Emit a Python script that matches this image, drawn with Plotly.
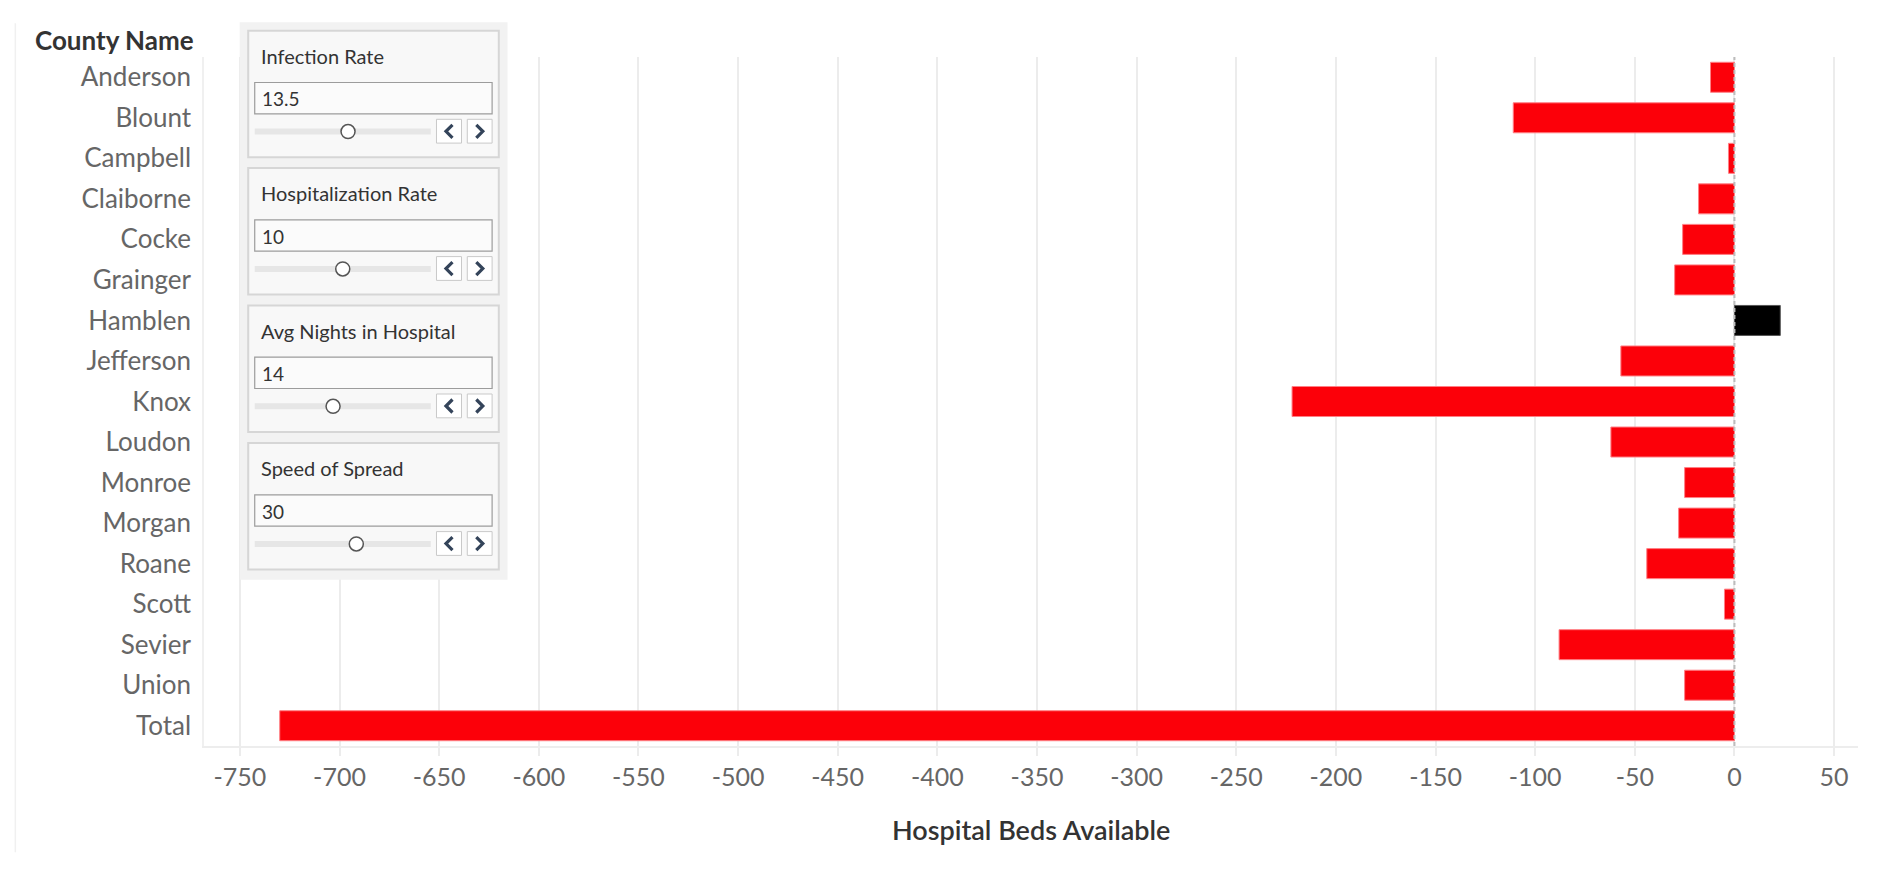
import plotly.graph_objects as go

# ---------------- data ----------------
counties = ["Anderson", "Blount", "Campbell", "Claiborne", "Cocke", "Grainger", "Hamblen",
            "Jefferson", "Knox", "Loudon", "Monroe", "Morgan", "Roane", "Scott", "Sevier",
            "Union", "Total"]
beds = [-12, -111, -3, -18, -26, -30, 23, -57, -222, -62, -25, -28, -44, -5, -88, -25, -730]
tick_vals = [-750, -700, -650, -600, -550, -500, -450, -400, -350, -300, -250, -200, -150,
             -100, -50, 0, 50]
tick_text = ["-750", "-700", "-650", "-600", "-550", "-500", "-450", "-400", "-350", "-300",
             "-250", "-200", "-150", "-100", "-50", "0", "50"]
# \u200c (zero-width non-joiner) keeps the font from drawing a "ti" ligature
param_names = ["Infection Rate", "Hospitaliza\u200ction Rate", "Avg Nights in Hospital", "Speed of Spread"]
param_values = ["13.5", "10", "14", "30"]
slider_fraction = [0.53, 0.50, 0.445, 0.577]

# ---------------- geometry helpers ----------------
# the page body has an 8px default margin, so the figure is drawn at (8, 8)
OFF = 8
W_FIG, H_FIG = 1894 - OFF, 874 - OFF
PLOT_X0, PLOT_X1 = 204.3, 1857.7      # page coordinates of plot area
PLOT_Y0, PLOT_Y1 = 56.7, 745.7
L = PLOT_X0 - OFF
R = W_FIG - (PLOT_X1 - OFF)
T = PLOT_Y0 - OFF
B = H_FIG - (PLOT_Y1 - OFF)
PW = W_FIG - L - R
PH = H_FIG - T - B


def px(x):
    return (x - OFF - L) / PW


def py(y):
    return 1 - (y - OFF - T) / PH


FONT = "Lato, 'Open Sans', sans-serif"
RED = "#fc0009"
colors = ["#000000" if v > 0 else RED for v in beds]
edges = ["#555555" if v > 0 else "#ff7f85" for v in beds]

fig = go.Figure(
    go.Bar(
        x=beds, y=counties, orientation="h",
        marker=dict(color=colors, line=dict(color=edges, width=1)),
        hoverinfo="x+y",
    )
)

shapes = []
annotations = []

# zero reference line (dashed)
shapes.append(dict(type="line", xref="x", yref="paper", x0=0, x1=0, y0=0, y1=1,
                   line=dict(color="#bcbcbc", width=2, dash="4px,3px"), layer="above"))

# faint sheet border at far left
shapes.append(dict(type="line", xref="paper", yref="paper", x0=px(15.7), x1=px(15.7),
                   y0=py(23), y1=py(852), line=dict(color="#f0f0f0", width=1.5)))

# parameter panel background
shapes.append(dict(type="rect", xref="paper", yref="paper", x0=px(240), x1=px(507.7),
                   y0=py(22), y1=py(579.5), fillcolor="#f2f2f2", line=dict(width=0),
                   layer="above"))

box_tops = [30.5, 167.8, 305.2, 442.8]
TRACK_X0, TRACK_X1 = 255, 431
for i, top in enumerate(box_tops):
    # card
    shapes.append(dict(type="rect", xref="paper", yref="paper", x0=px(248.5), x1=px(499),
                       y0=py(top), y1=py(top + 126.5), fillcolor="#f8f8f8",
                       line=dict(color="#d6d6d6", width=2), layer="above"))
    # input box
    shapes.append(dict(type="rect", xref="paper", yref="paper", x0=px(255), x1=px(492.3),
                       y0=py(top + 51.7), y1=py(top + 83), fillcolor="#fbfbfb",
                       line=dict(color="#9c9c9c", width=1.2), layer="above"))
    # slider track
    tc = top + 100.8
    shapes.append(dict(type="rect", xref="paper", yref="paper", x0=px(TRACK_X0), x1=px(TRACK_X1),
                       y0=py(tc - 3), y1=py(tc + 3), fillcolor="#e6e6e6",
                       line=dict(width=0), layer="above"))
    # slider thumb
    cx = TRACK_X0 + slider_fraction[i] * (TRACK_X1 - TRACK_X0)
    shapes.append(dict(type="circle", xref="paper", yref="paper", x0=px(cx - 7), x1=px(cx + 7),
                       y0=py(tc - 7), y1=py(tc + 7), fillcolor="#ffffff",
                       line=dict(color="#555555", width=1.5), layer="above"))
    # step buttons
    for bx0, bx1 in [(436.7, 461.7), (467.5, 492.3)]:
        shapes.append(dict(type="rect", xref="paper", yref="paper", x0=px(bx0), x1=px(bx1),
                           y0=py(top + 88.5), y1=py(top + 112.3), fillcolor="#ffffff",
                           line=dict(color="#c9c9c9", width=1), layer="above"))
    cy = top + 100.5
    # chevrons
    lx = 449.2
    shapes.append(dict(type="path", xref="paper", yref="paper",
                       path=f"M {px(lx + 3.5)} {py(cy - 6.5)} L {px(lx - 3)} {py(cy)} L {px(lx + 3.5)} {py(cy + 6.5)}",
                       line=dict(color="#34445a", width=3.2), layer="above"))
    rx = 480
    shapes.append(dict(type="path", xref="paper", yref="paper",
                       path=f"M {px(rx - 3.5)} {py(cy - 6.5)} L {px(rx + 3)} {py(cy)} L {px(rx - 3.5)} {py(cy + 6.5)}",
                       line=dict(color="#34445a", width=3.2), layer="above"))
    # texts
    annotations.append(dict(xref="paper", yref="paper", x=px(259), y=py(top + 25),
                            xanchor="left", yanchor="middle", showarrow=False,
                            text=param_names[i], font=dict(family=FONT, size=20, color="#333333")))
    annotations.append(dict(xref="paper", yref="paper", x=px(260), y=py(top + 68),
                            xanchor="left", yanchor="middle", showarrow=False,
                            text=param_values[i], font=dict(family=FONT, size=19, color="#333333")))

# header for row labels
annotations.append(dict(xref="paper", yref="paper", x=px(196), y=py(40), xanchor="right",
                        yanchor="middle", showarrow=False, text="<b>County Name</b>",
                        font=dict(family=FONT, size=26, color="#333333")))
# x axis title
annotations.append(dict(xref="paper", yref="paper", x=0.5, y=py(829), xanchor="center",
                        yanchor="middle", showarrow=False, text="Hospital Beds Available",
                        font=dict(family=FONT, size=27, color="#333333", weight=600)))

fig.update_layout(
    width=W_FIG, height=H_FIG, autosize=False,
    margin=dict(l=L, r=R, t=T, b=B, pad=0),
    paper_bgcolor="#ffffff", plot_bgcolor="#ffffff",
    bargap=0.26, showlegend=False,
    shapes=shapes, annotations=annotations,
    xaxis=dict(range=[-768, 62], tickvals=tick_vals, ticktext=tick_text,
               showgrid=True, gridcolor="#ececec", gridwidth=1.5, zeroline=False,
               showline=True, linecolor="#ededed", linewidth=2,
               ticks="outside", ticklen=8, tickcolor="#ececec", tickwidth=2,
               tickfont=dict(family=FONT, size=25, color="#666666"),
               fixedrange=True),
    yaxis=dict(categoryorder="array", categoryarray=counties, autorange="reversed",
               showgrid=False, zeroline=False, showline=True, linecolor="#f0f0f0",
               linewidth=1.5, ticks="", ticklabelstandoff=6,
               tickfont=dict(family=FONT, size=26, color="#666666"), fixedrange=True),
)

fig.write_html("out.html")
